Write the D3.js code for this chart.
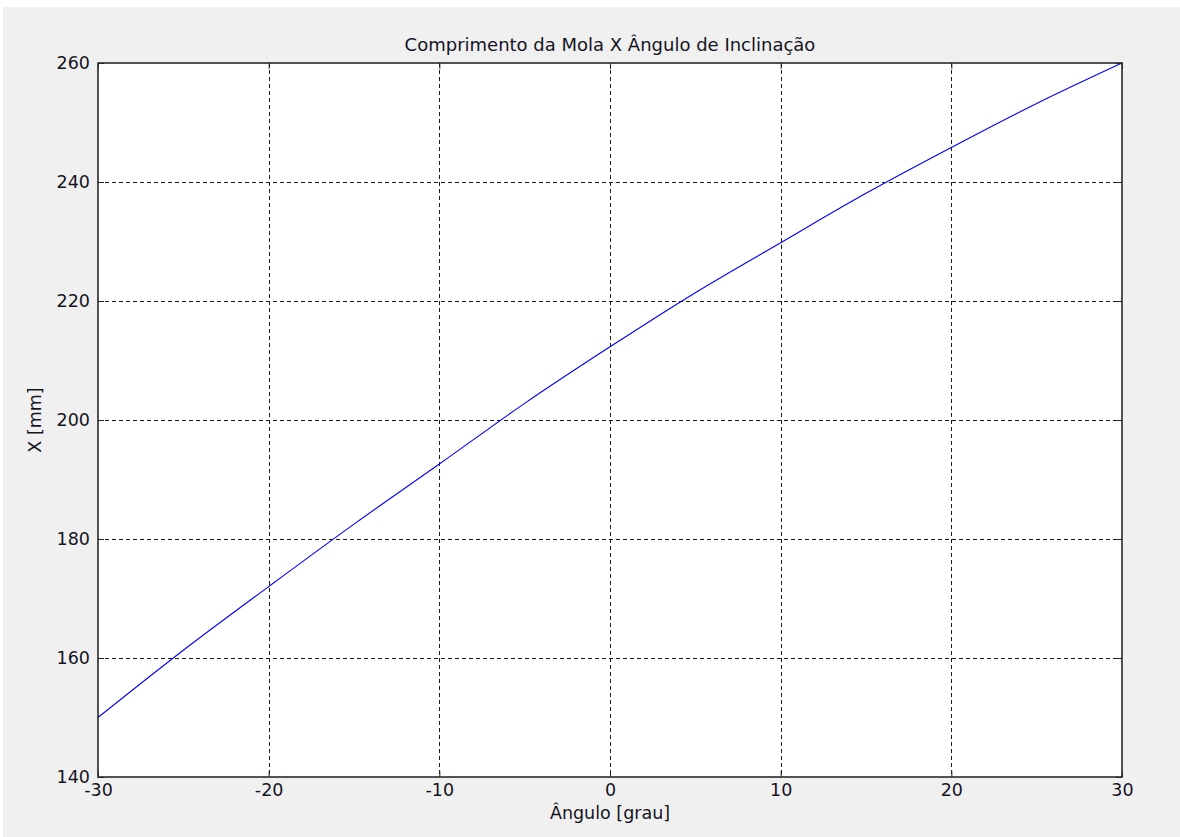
<!DOCTYPE html>
<html>
<head>
<meta charset="utf-8">
<script src="https://cdn.jsdelivr.net/npm/d3@7"></script>
<style>
  html, body { margin: 0; padding: 0; background: #ffffff; }
  svg { display: block; }
  text { font-family: "DejaVu Sans", Verdana, sans-serif; fill: #14141e; }
</style>
</head>
<body>
<svg id="chart" width="1180" height="837"></svg>
<script>
// Spring length versus inclination angle
const angles  = [-30, -25, -20, -15, -10, -5, 0, 5, 10, 15, 20, 25, 30];
const lengths = [150, 161.3, 172.0, 182.5, 192.6, 202.8, 212.3, 221.4, 229.8, 238.1, 245.8, 253.2, 260];
const xTicks = [-30, -20, -10, 0, 10, 20, 30];
const yTicks = [140, 160, 180, 200, 220, 240, 260];

const titleText = "Comprimento da Mola X Ângulo de Inclinação";
const xLabel = "Ângulo [grau]";
const yLabel = "X [mm]";

const svg = d3.select("#chart");
const W = 1180, H = 837;
const plot = { left: 98, top: 63, right: 1122, bottom: 777 };
const fontSize = 17.5;
const titleSize = 18;

// figure background
svg.append("rect").attr("x", 3).attr("y", 7).attr("width", W - 3).attr("height", H - 7)
  .attr("fill", "#f0f0f0");

const x = d3.scaleLinear().domain([-30, 30]).range([plot.left, plot.right]);
const y = d3.scaleLinear().domain([140, 260]).range([plot.bottom, plot.top]);

// axes area
svg.append("rect")
  .attr("x", plot.left).attr("y", plot.top)
  .attr("width", plot.right - plot.left).attr("height", plot.bottom - plot.top)
  .attr("fill", "#ffffff");

// grid lines
const grid = svg.append("g").attr("stroke", "#1a1a1a").attr("stroke-width", 1)
  .attr("stroke-dasharray", "4,3").attr("shape-rendering", "crispEdges");
xTicks.slice(1, -1).forEach(t => {
  grid.append("line").attr("x1", Math.round(x(t)) + 0.5).attr("x2", Math.round(x(t)) + 0.5)
    .attr("y1", plot.top).attr("y2", plot.bottom);
});
yTicks.slice(1, -1).forEach(t => {
  grid.append("line").attr("y1", Math.round(y(t)) + 0.5).attr("y2", Math.round(y(t)) + 0.5)
    .attr("x1", plot.left).attr("x2", plot.right);
});

// curve
const line = d3.line().x((d, i) => x(angles[i])).y(d => y(d)).curve(d3.curveMonotoneX);
svg.append("path").datum(lengths)
  .attr("d", line)
  .attr("fill", "none")
  .attr("stroke", "#0000ff")
  .attr("stroke-width", 1.1);

// axes with inward ticks on all four sides
const tickLen = 6;
const plain = d => String(d);
const axB = d3.axisBottom(x).tickValues(xTicks).tickSizeInner(-tickLen).tickSizeOuter(0).tickPadding(7).tickFormat(plain);
const axT = d3.axisTop(x).tickValues(xTicks).tickSizeInner(-tickLen).tickSizeOuter(0).tickFormat("");
const axL = d3.axisLeft(y).tickValues(yTicks).tickSizeInner(-tickLen).tickSizeOuter(0).tickPadding(8).tickFormat(plain);
const axR = d3.axisRight(y).tickValues(yTicks).tickSizeInner(-tickLen).tickSizeOuter(0).tickFormat("");

function styleAxis(g) {
  g.select(".domain").remove();
  g.selectAll(".tick line").attr("stroke", "#222").attr("stroke-width", 1);
  g.selectAll(".tick text").attr("font-size", fontSize).attr("fill", "#14141e")
    .attr("font-family", "'DejaVu Sans', Verdana, sans-serif");
}
svg.append("g").attr("transform", `translate(0,${plot.bottom})`).call(axB).call(styleAxis);
svg.append("g").attr("transform", `translate(0,${plot.top})`).call(axT).call(styleAxis);
svg.append("g").attr("transform", `translate(${plot.left},0)`).call(axL).call(styleAxis);
svg.append("g").attr("transform", `translate(${plot.right},0)`).call(axR).call(styleAxis);

// axes box
svg.append("rect")
  .attr("x", plot.left).attr("y", plot.top)
  .attr("width", plot.right - plot.left).attr("height", plot.bottom - plot.top)
  .attr("fill", "none").attr("stroke", "#2a2a2a").attr("stroke-width", 1.6);

// title and axis labels
svg.append("text").attr("x", (plot.left + plot.right) / 2).attr("y", 51)
  .attr("text-anchor", "middle").attr("font-size", titleSize).text(titleText);
svg.append("text").attr("x", (plot.left + plot.right) / 2).attr("y", 819)
  .attr("text-anchor", "middle").attr("font-size", fontSize).text(xLabel);
svg.append("text")
  .attr("transform", `translate(41,${(plot.top + plot.bottom) / 2}) rotate(-90)`)
  .attr("text-anchor", "middle").attr("font-size", fontSize).text(yLabel);
</script>
</body>
</html>
